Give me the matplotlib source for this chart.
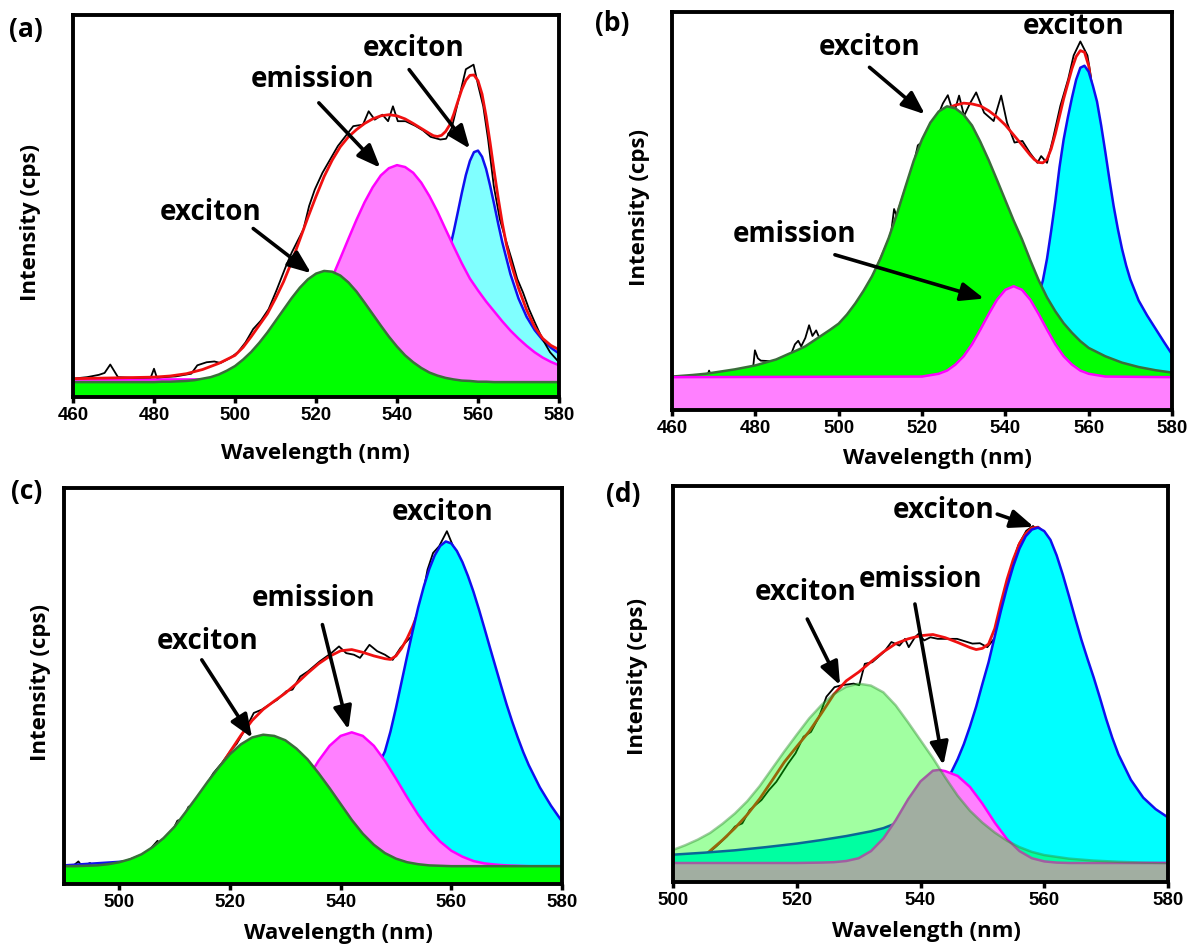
import matplotlib
matplotlib.use('Agg')
import matplotlib.pyplot as plt

# ---------------- Panel (a) ----------------
a_x = [460, 462, 464, 466, 468, 470, 472, 474, 476, 478, 480, 482, 484, 486, 488, 490, 492, 494, 496, 498,
       500, 502, 504, 506, 508, 510, 512, 514, 516, 518, 520, 522, 524, 526, 528, 530, 532, 534, 536, 538,
       540, 542, 544, 546, 548, 550, 552, 554, 556, 558, 560, 562, 564, 566, 568, 570, 572, 574, 576, 578, 580]
a_green = [3.9, 3.9, 3.9, 3.9, 3.9, 3.9, 3.9, 3.9, 3.9, 3.9, 3.9, 4.0, 4.0, 4.1, 4.2, 4.4, 4.8, 5.2, 5.9, 6.9,
           8.1, 9.8, 11.8, 14.2, 16.9, 19.9, 22.9, 25.9, 28.6, 30.8, 32.3, 33.0, 32.8, 31.8, 30.0, 27.6, 24.7, 21.7, 18.7, 15.8,
           13.2, 10.9, 9.1, 7.6, 6.4, 5.6, 5.0, 4.6, 4.3, 4.2, 4.0, 4.0, 3.9, 3.9, 3.9, 3.9, 3.9, 3.9, 3.9, 3.9, 3.9]
a_pink = [4.6, 4.6, 4.6, 4.6, 4.6, 4.6, 4.6, 4.6, 4.6, 4.6, 4.6, 4.6, 4.6, 4.6, 4.6, 4.6, 4.6, 4.7, 4.8, 5.0,
          5.2, 5.5, 6.0, 6.7, 7.6, 8.9, 10.5, 12.7, 15.3, 18.5, 22.3, 26.6, 31.3, 36.3, 41.4, 46.4, 51.0, 54.9, 58.0, 59.9,
          60.7, 60.2, 58.7, 56.1, 52.6, 48.5, 43.9, 39.4, 35.0, 31.0, 27.9, 25.0, 22.4, 19.8, 17.4, 15.3, 13.4, 11.7, 10.3, 9.2, 8.3]
a_cyan_x = [460, 480, 500, 520, 530, 540, 544, 548, 550, 552, 553, 554, 555, 556, 557, 558, 559, 560, 561, 562,
            563, 564, 565, 566, 568, 570, 572, 574, 576, 578, 580]
a_cyan = [3.9, 4.1, 4.5, 5.8, 7.4, 11.8, 15.6, 22.3, 27.5, 34.4, 38.7, 43.3, 48.3, 53.4, 58.1, 61.8, 64.1, 64.5, 62.9, 59.7,
          55.3, 50.4, 45.3, 40.5, 32.2, 25.8, 21.0, 17.5, 14.9, 12.9, 11.4]
a_fit_x = [460, 465, 470, 475, 480, 484, 488, 492, 496,
           500, 502, 504, 506, 508, 510, 512, 514, 516, 518, 520, 522, 524, 526, 528, 530, 532, 534, 536, 538, 540,
           542, 544, 546, 548,
           549, 550, 551, 552, 553, 554, 555, 556, 557, 558, 559, 560, 561, 562, 563, 564, 565, 566, 567, 568,
           570, 572, 574, 576, 578, 580]
a_fit = [4.8, 4.9, 5.0, 5.1, 5.2, 5.5, 6.1, 7.2, 8.8,
         10.9, 13.0, 15.8, 18.8, 21.8, 25.8, 30.2, 35.4, 41.2, 47.0, 52.5, 57.7, 62.0, 65.5, 68.1, 70.0, 71.6, 72.8, 73.6, 73.9, 73.6,
         72.8, 71.6, 70.3, 69.0,
         68.4, 68.2, 68.5, 69.5, 71.2, 74.0, 77.3, 80.5, 82.9, 84.2, 84.3, 82.8, 79.3, 73.5, 66.5, 59.0, 52.0, 45.5, 40.0, 35.5,
         28.5, 22.8, 18.3, 15.3, 13.5, 12.4]
a_raw_x = [460.0, 463.5, 466.4, 467.8, 469.2, 471.1, 474.9, 479.2, 480.0, 480.7, 485.4, 489.2, 490.7, 493.0, 494.9, 496.4,
           498.8, 500.7, 502.6, 504.5, 506.4, 508.3, 510.2, 512.6, 514.0, 516.9, 518.3, 519.7, 521.6, 523.5, 525.4, 527.3,
           529.2, 531.6, 533.0, 534.5, 536.4, 537.8, 539.0, 540.2, 542.1, 544.5, 546.4, 548.3, 550.7, 552.1, 553.5, 555.4,
           557.0, 558.9, 560.1, 561.3, 562.5, 563.9, 565.4, 566.8, 568.3, 569.7, 571.1, 572.6, 574.0, 575.9, 577.8, 580.0]
a_raw = [4.8, 5.2, 5.8, 6.3, 8.5, 5.2, 5.0, 5.1, 7.4, 5.1, 5.4, 6.1, 8.3, 9.1, 9.3, 8.9,
         10.2, 11.7, 14.3, 17.8, 20.0, 23.0, 27.8, 34.3, 37.8, 43.9, 50.0, 54.3, 58.7, 62.2, 65.7, 68.3,
         70.9, 71.3, 74.8, 72.6, 73.9, 72.2, 76.1, 72.2, 72.2, 71.0, 69.8, 68.1, 67.4, 67.6, 70.4, 78.7,
         85.8, 87.0, 81.3, 76.1, 67.4, 55.2, 46.5, 41.3, 36.1, 30.9, 27.4, 23.0, 19.6, 15.2, 11.7, 9.1]

# ---------------- Panel (b) ----------------
b_x = [460, 465, 468, 470, 475, 480, 485, 488,
       490, 492, 494, 496, 498, 500, 502, 504, 506, 508, 510, 512, 514, 516, 518, 520, 522, 524, 526, 528, 530, 532,
       534, 536, 538, 540, 542, 544, 546, 548, 550, 552, 554, 556, 558, 560,
       564, 568, 572, 576, 580]
b_green = [8.4, 8.8, 9.1, 9.4, 10.2, 11.2, 12.7, 14.1,
           15.0, 16.0, 17.4, 18.8, 20.2, 21.7, 24.0, 26.8, 30.0, 33.6, 38.0, 43.2, 49.3, 56.0, 62.6, 68.0, 72.2, 75.0, 76.3, 75.8, 74.2, 71.5,
           67.4, 62.8, 57.8, 52.7, 47.6, 42.9, 37.6, 32.6, 28.3, 24.8, 21.8, 19.4, 17.3, 15.6,
           13.5, 11.9, 10.8, 10.0, 9.4]
b_pink_x = [460, 520, 524, 526, 528, 530, 532, 534, 536, 538, 540, 542, 544, 546, 548, 550, 552, 554, 556, 558, 560, 564, 580]
b_pink = [8.25, 8.4, 9.1, 9.9, 11.4, 13.5, 16.5, 20.2, 24.1, 27.7, 30.2, 31.1, 30.2, 27.7, 24.1, 20.2, 16.5, 13.5, 11.4, 9.9, 9.1, 8.4, 8.25]
b_cyan_x = [460, 500, 520, 530, 540, 544, 546,
            548, 549, 550, 551, 552, 553, 554, 555, 556, 557, 558, 559, 560, 561, 562, 563, 564, 565, 566, 567, 568, 569, 570,
            572, 574, 576, 578, 580]
b_cyan = [7.0, 8.0, 10.0, 12.5, 17.0, 20.5, 24.0,
          29.0, 32.5, 38.0, 45.0, 52.5, 61.0, 68.0, 73.5, 78.5, 83.0, 86.0, 86.5, 85.0, 81.5, 77.5, 71.5, 64.8, 57.8, 51.2, 45.5, 40.5, 36.3, 32.8,
          27.5, 23.8, 20.5, 17.2, 14.0]
b_fit_x = [460, 470, 480, 490, 500, 504, 508, 512, 516, 520, 524,
           526, 528, 530, 532, 534, 536, 538, 540, 542, 544, 546,
           547, 548, 549, 550, 551, 552, 553, 554, 555, 556, 557, 558, 559, 560, 561, 562,
           564, 566, 568, 570, 574, 578, 580]
b_fit = [7.8, 8.8, 10.6, 14.4, 21.1, 26.2, 33.0, 42.6, 55.4, 67.4, 74.4,
         75.8, 76.6, 77.1, 76.9, 76.4, 75.2, 73.6, 71.6, 69.1, 66.6, 64.0,
         62.9, 62.2, 62.1, 63.0, 65.6, 69.4, 73.8, 78.2, 82.0, 85.8, 88.8, 90.3, 89.9, 86.5, 79.0, 75.0,
         62.3, 48.7, 38.0, 30.3, 21.3, 14.7, 11.5]
b_raw_x = [460.0, 466.0, 468.3, 468.9, 469.5, 475.0, 479.3, 479.9, 480.6, 481.3, 483.0, 485.0, 488.5, 489.5, 490.3, 491.0,
           492.0, 492.9, 493.7, 494.6, 495.3, 497.0, 500.0, 504.0, 508.0, 511.0, 512.5, 513.3, 514.0, 516.0, 518.0, 519.0,
           520.0, 522.0, 524.0, 525.0, 526.2, 527.6, 528.9, 530.1, 531.5, 533.0, 534.9, 537.2, 539.0, 540.4, 542.2, 544.1,
           545.9, 547.7, 548.6, 550.0, 551.4, 553.2, 555.1, 556.4, 558.0, 559.7, 560.5,
           561, 562, 563, 564, 565, 566, 567, 568, 569, 570, 572, 574, 576, 578, 580]
b_raw = [8.0, 8.0, 8.0, 9.9, 8.1, 8.4, 9.0, 15.0, 13.0, 12.4, 12.3, 12.2, 13.8, 16.5, 17.4, 16.0,
         18.1, 21.3, 18.6, 20.0, 18.3, 18.5, 21.0, 26.0, 32.8, 40.0, 43.8, 50.5, 48.5, 55.2, 61.8, 66.5,
         67.3, 71.5, 74.4, 77.0, 79.1, 74.3, 79.0, 73.9, 77.0, 79.8, 74.7, 72.6, 79.0, 72.2, 67.2, 67.6,
         64.6, 62.1, 63.8, 62.1, 68.0, 76.4, 83.2, 89.1, 92.6, 89.1, 84.0,
         79.0, 75.0, 69.0, 62.3, 55.3, 48.7, 43.0, 38.0, 33.8, 30.3, 25.0, 21.3, 18.0, 14.7, 11.5]

# ---------------- Panel (c) ----------------
c_x = [490, 492, 494, 496, 498, 500, 502, 504, 506, 508, 510, 512, 514, 516, 518, 520, 522, 524, 526, 528,
       530, 532, 534, 536, 538, 540, 542, 544, 546, 548, 550, 552, 554, 556, 558, 560, 562, 564, 566, 568,
       570, 572, 574, 576, 578, 580]
c_green = [4.5, 4.5, 4.6, 4.7, 5.0, 5.5, 6.3, 7.5, 9.3, 11.6, 14.5, 18.2, 22.0, 25.9, 29.5, 32.8, 35.3, 37.0, 37.7, 37.4,
           36.3, 34.2, 31.5, 28.0, 24.2, 20.2, 16.2, 12.7, 9.9, 7.8, 6.4, 5.5, 5.0, 4.7, 4.6, 4.5, 4.5, 4.5, 4.5, 4.5,
           4.5, 4.5, 4.5, 4.5, 4.5, 4.5]
c_pink = [4.5, 4.5, 4.5, 4.5, 4.5, 4.5, 4.5, 4.5, 4.5, 4.5, 4.5, 4.6, 4.7, 4.9, 5.2, 5.8, 6.9, 8.4, 10.7, 13.7,
          17.5, 21.9, 26.6, 31.1, 34.9, 37.4, 38.3, 37.4, 34.9, 31.1, 26.6, 21.9, 17.5, 13.7, 10.7, 8.4, 6.9, 5.8, 5.2, 4.9,
          4.7, 4.6, 4.5, 4.5, 4.5, 4.5]
c_cyan_x = [490, 500, 510, 520, 530, 536, 540, 544, 546,
            547, 548, 549, 550, 551, 552, 553, 554, 555, 556, 557, 558, 559, 560, 561, 562, 563, 564, 565, 566, 567,
            568, 569, 570, 571, 572, 573, 574, 576, 578, 580]
c_cyan = [4.7, 5.6, 6.5, 8.0, 10.5, 13.5, 17.0, 22.5, 28.0,
          30.5, 33.5, 38.5, 44.5, 51.0, 57.5, 63.8, 69.8, 75.0, 79.5, 83.0, 85.4, 86.5, 86.0, 84.1, 81.3, 77.8, 73.8, 69.3, 64.5, 59.6,
          54.8, 50.0, 45.3, 41.0, 37.0, 33.3, 30.0, 24.4, 19.8, 15.8]
c_fit_x = [490, 494, 498, 502,
           504, 506, 508, 510, 512, 514, 516, 518, 520, 522, 524, 526, 528, 530, 532, 534, 536, 538, 540, 542, 544, 546, 548,
           549, 550, 551, 552, 553, 554, 555, 556, 557, 558, 559, 560,
           562, 564, 566, 568, 570, 572, 574, 576, 578, 580]
c_fit = [4.2, 4.3, 4.7, 6.0,
         7.2, 9.0, 11.3, 14.2, 17.6, 20.8, 24.9, 29.1, 33.4, 37.6, 41.3, 44.1, 46.2, 48.2, 50.6, 53.2, 55.6, 57.5, 58.9, 59.2, 58.5, 57.6, 56.9,
         56.7, 57.6, 59.5, 62.0, 65.0, 68.6, 72.6, 77.0, 80.7, 83.5, 85.2, 85.5,
         78.8, 71.3, 62.0, 52.3, 42.8, 34.5, 27.5, 21.9, 17.3, 13.3]
c_raw_x = [490.0, 491.5, 492.6, 493.3, 494.7, 495.3, 500.0, 505.0, 506.9, 507.6, 509.7, 510.5, 511.5, 512.5, 513.5, 514.5,
           515.5, 517.0, 518.5, 520.2, 521.2, 522.5, 523.5, 524.3, 525.7, 527.1, 528.5, 530.2, 531.3, 532.7, 534.1, 536.2,
           538.3, 539.7, 541.0, 542.4, 543.5, 545.2, 546.6, 548.0, 549.4, 550.8, 552.2, 553.2, 554.3, 555.7, 556.7, 557.8,
           559.2, 560.2,
           561, 562, 563, 564, 565, 566, 567, 568, 569, 570, 571, 572, 574, 576, 578, 580]
c_raw = [4.4, 4.4, 5.7, 4.4, 5.3, 4.4, 5.2, 7.9, 10.9, 10.0, 13.7, 16.0, 16.4, 19.5, 20.0, 22.2,
         24.5, 28.0, 30.5, 33.8, 35.4, 38.5, 41.0, 43.2, 44.0, 45.3, 46.5, 48.7, 49.1, 52.4, 53.7, 56.2,
         58.3, 60.0, 58.3, 57.9, 57.1, 60.4, 58.8, 57.9, 56.6, 59.6, 61.7, 63.0, 69.3, 79.4, 83.6, 85.3,
         89.1, 85.7,
         81.6, 78.8, 75.3, 71.3, 66.8, 62.0, 57.1, 52.3, 47.5, 42.8, 38.5, 34.5, 27.5, 21.9, 17.3, 13.3]

# ---------------- Panel (d) ----------------
d_x = [500, 502, 504, 506, 508, 510, 512, 514, 516, 518, 520, 522, 524, 526, 528, 530, 532, 534, 536, 538,
       540, 542, 544, 546, 548, 550, 552, 554, 556, 558, 560, 564, 568, 572, 576, 580]
d_green = [8.1, 9.3, 10.7, 12.4, 14.7, 17.3, 20.4, 24.2, 28.6, 33.0, 37.2, 41.3, 44.7, 47.5, 49.3, 50.1, 49.6, 47.9, 44.6, 40.3,
           35.8, 31.3, 26.4, 21.8, 18.0, 15.0, 12.5, 10.4, 8.8, 7.6, 6.8, 5.9, 5.4, 5.1, 4.9, 4.8]
d_pink_x = [500, 520, 524, 526, 528, 530, 532, 534, 536, 538, 540, 542, 543, 544, 546, 548, 550, 552, 554, 556, 558, 560, 562, 564, 580]
d_pink = [4.8, 4.8, 4.9, 5.0, 5.3, 6.0, 7.8, 11.0, 15.6, 20.9, 25.4, 28.1, 28.3, 28.0, 26.8, 24.0, 19.8, 15.0, 10.8, 7.8, 6.0, 5.2, 4.9, 4.8, 4.8]
d_cyan_x = [500, 505, 510, 515, 520, 524, 528, 530, 532, 534, 536, 538, 540, 542, 544, 545,
            546, 547, 548, 549, 550, 551, 552, 553, 554, 555, 556, 557, 558, 559, 560, 561, 562, 563, 564, 565,
            566, 567, 568, 569, 570, 571, 572, 574, 576, 578, 580]
d_cyan = [6.9, 7.4, 8.0, 8.8, 9.7, 10.6, 11.6, 12.2, 12.8, 13.6, 14.8, 16.8, 19.3, 22.3, 25.6, 27.8,
          31.0, 34.8, 39.3, 44.3, 50.0, 55.5, 62.0, 68.5, 74.5, 79.8, 84.2, 87.3, 89.0, 89.5, 88.6, 86.4, 82.5, 77.6, 72.2, 66.6,
          61.2, 56.3, 51.6, 46.5, 41.2, 36.4, 32.2, 25.8, 21.3, 18.4, 16.3]
d_fit_x = [505.5, 508,
           510, 512, 514, 516, 518, 520, 522, 524, 526, 528, 530, 532, 534, 536, 538, 540, 542, 544, 546, 548,
           549, 550, 551, 552, 553, 554, 555, 556, 557, 558, 559, 560,
           562, 564, 566, 568, 570, 572, 576, 580]
d_fit = [7.2, 10.6,
         13.6, 17.0, 21.0, 25.6, 30.3, 34.2, 38.0, 42.6, 47.4, 50.8, 53.0, 55.6, 58.1, 60.2, 61.4, 62.2, 62.5, 61.7, 60.5, 59.2,
         58.7, 59.0, 60.1, 64.0, 70.5, 76.5, 81.5, 85.5, 88.0, 89.4, 89.6, 88.2,
         80.0, 69.7, 58.7, 49.1, 38.7, 29.7, 18.8, 13.8]
d_raw_x = [505.7, 507.0, 508.0, 508.7, 510.0, 511.2, 512.4, 514.3, 515.5, 516.7, 518.6, 519.8, 521.1, 522.3, 523.6, 524.8,
           526.1, 527.3, 529.2, 530.1, 531.0, 532.2, 534.1, 535.3, 536.6, 537.5, 538.1, 539.1, 539.7, 540.6, 541.6, 542.8,
           544.0, 545.9, 548.4, 549.6, 550.8, 552.1, 553.3, 554.6, 555.8, 557.1, 558.2,
           559.5, 560, 561, 562, 563, 564, 565, 566, 567, 568, 569, 570, 571, 572, 574, 576, 578, 580]
d_raw = [7.3, 9.0, 10.5, 11.5, 14.0, 14.8, 18.2, 20.7, 23.2, 25.3, 29.9, 32.5, 36.7, 37.9, 41.7, 46.8,
         49.2, 49.7, 50.1, 49.7, 55.1, 55.5, 58.1, 60.6, 59.7, 61.4, 59.3, 61.8, 62.7, 61.0, 61.8, 61.4,
         61.4, 61.4, 60.2, 60.3, 59.3, 61.8, 66.9, 79.0, 85.0, 88.7, 89.9,
         87.5, 86.1, 83.9, 80.0, 75.1, 69.7, 64.1, 58.7, 53.8, 49.1, 44.0, 38.7, 33.9, 29.7, 23.3, 18.8, 15.9, 13.8]

# ---------------- styling ----------------
LABEL_FONT = ['Open Sans', 'DejaVu Sans']
TICK_FONT = ['Liberation Sans', 'DejaVu Sans']
plt.rcParams['font.family'] = LABEL_FONT

W, H = 1189, 949
fig = plt.figure(figsize=(W / 100, H / 100), dpi=100)

GREEN, GREEN_EDGE = '#00ff00', '#3a6e3a'
PINK, PINK_EDGE = '#ff80ff', '#ff00ff'
CYAN, CYAN_LIGHT, CYAN_EDGE = '#00ffff', '#80ffff', '#1010ee'
RED = '#f01010'


def setup(rect, xlim, xticks, xlab, ylab):
    ax = fig.add_axes(rect)
    ax.set_xlim(*xlim)
    ax.set_ylim(0, 100)
    ax.set_xticks(xticks)
    ax.set_xticklabels([str(t) for t in xticks])
    ax.set_yticks([])
    ax.tick_params(axis='x', direction='out', length=4, width=2.5, pad=3.5,
                   labelsize=13.5, labelfontfamily=TICK_FONT)
    for lab in ax.get_xticklabels():
        lab.set_fontweight('bold')
    for s in ax.spines.values():
        s.set_linewidth(2.8)
        s.set_zorder(20)
    ax.set_xlabel('Wavelength (nm)', fontfamily=LABEL_FONT, fontweight='bold',
                  fontsize=16, va='center', ha='center')
    ax.xaxis.set_label_coords(*xlab)
    ax.set_ylabel('Intensity (cps)', fontfamily=LABEL_FONT, fontweight='bold',
                  fontsize=16, va='center', ha='center')
    ax.yaxis.set_label_coords(*ylab)
    return ax


def component(ax, x, y, fill, edge, z, alpha=1.0, edge_alpha=1.0):
    ax.fill_between(x, 0, y, facecolor=fill, edgecolor='none', linewidth=0,
                    zorder=z, alpha=alpha)
    ax.plot(x, y, color=edge, lw=1.8, zorder=z + 0.1, alpha=edge_alpha,
            solid_capstyle='butt')


def lines(ax, rx, ry, fx, fy, z):
    ax.plot(rx, ry, color='black', lw=1.3, zorder=z)
    ax.plot(fx, fy, color=RED, lw=2.0, zorder=z + 0.1)


def label(ax, x, y, s):
    ax.text(x, y, s, ha='center', va='center', fontsize=20, fontweight='bold',
            fontfamily=LABEL_FONT, zorder=30)


def arrow(ax, tail, head):
    ax.annotate('', xy=head, xytext=tail, zorder=30,
                arrowprops=dict(arrowstyle='-|>,head_length=0.7,head_width=0.28',
                                mutation_scale=20, lw=2.6, color='black',
                                shrinkA=0, shrinkB=0))


# (a)
ax = setup([73 / W, 1 - 397 / H, 486 / W, 382 / H], (460, 580),
           [460, 480, 500, 520, 540, 560, 580], (0.498, -0.147), (-0.087, 0.458))
component(ax, a_cyan_x, a_cyan, CYAN_LIGHT, CYAN_EDGE, 2)
component(ax, a_x, a_pink, PINK, PINK_EDGE, 3)
component(ax, a_x, a_green, GREEN, GREEN_EDGE, 4)
lines(ax, a_raw_x, a_raw, a_fit_x, a_fit, 6)
label(ax, 519.2, 83.0, 'emission')
arrow(ax, (520.7, 77.0), (535.9, 60.0))
label(ax, 544.0, 91.3, 'exciton')
arrow(ax, (543.0, 85.7), (558.0, 65.0))
label(ax, 494.0, 48.3, 'exciton')
arrow(ax, (504.5, 44.1), (518.8, 32.4))

# (b)
ax = setup([672 / W, 1 - 410 / H, 500 / W, 398 / H], (460, 580),
           [460, 480, 500, 520, 540, 560, 580], (0.53, -0.121), (-0.064, 0.51))
lines(ax, b_raw_x, b_raw, b_fit_x, b_fit, 1)
component(ax, b_cyan_x, b_cyan, CYAN, CYAN_EDGE, 2)
component(ax, b_x, b_green, GREEN, GREEN_EDGE, 3)
component(ax, b_pink_x, b_pink, PINK, PINK_EDGE, 4)
label(ax, 507.4, 91.2, 'exciton')
arrow(ax, (507.4, 86.1), (520.7, 74.3))
label(ax, 556.4, 96.3, 'exciton')
label(ax, 489.5, 44.0, 'emission')
arrow(ax, (499.1, 39.0), (534.9, 28.0))

# (c)
ax = setup([64 / W, 1 - 884 / H, 498 / W, 396 / H], (490, 580),
           [500, 520, 540, 560, 580], (0.552, -0.124), (-0.048, 0.508))
lines(ax, c_raw_x, c_raw, c_fit_x, c_fit, 1)
component(ax, c_cyan_x, c_cyan, CYAN, CYAN_EDGE, 2)
component(ax, c_x, c_pink, PINK, PINK_EDGE, 3)
component(ax, c_x, c_green, GREEN, GREEN_EDGE, 4)
label(ax, 558.5, 93.7, 'exciton')
label(ax, 535.1, 72.2, 'emission')
arrow(ax, (536.7, 65.5), (541.4, 39.0))
label(ax, 516.0, 61.3, 'exciton')
arrow(ax, (514.9, 56.6), (524.0, 36.9))

# (d)
ax = setup([673 / W, 1 - 882 / H, 495 / W, 396 / H], (500, 580),
           [500, 520, 540, 560, 580], (0.513, -0.126), (-0.071, 0.518))
lines(ax, d_raw_x, d_raw, d_fit_x, d_fit, 1)
component(ax, d_cyan_x, d_cyan, CYAN, CYAN_EDGE, 2)
component(ax, d_pink_x, d_pink, PINK, PINK_EDGE, 3)
component(ax, d_x, d_green, GREEN, '#2f8f2f', 4, alpha=0.37, edge_alpha=0.45)
label(ax, 543.7, 93.7, 'exciton')
arrow(ax, (552.4, 92.9), (558.3, 89.7))
label(ax, 540.0, 76.5, 'emission')
arrow(ax, (539.1, 70.2), (543.7, 29.5))
label(ax, 521.4, 73.2, 'exciton')
arrow(ax, (521.7, 66.4), (527.0, 49.7))

for s, (px, py) in zip(['(a)', '(b)', '(c)', '(d)'],
                       [(26, 29), (612, 23), (27, 492), (623, 495)]):
    fig.text(px / W, 1 - py / H, s, ha='center', va='center', fontsize=19,
             fontweight='bold', fontfamily=LABEL_FONT)

fig.savefig('out.png', dpi=100, facecolor='white')
